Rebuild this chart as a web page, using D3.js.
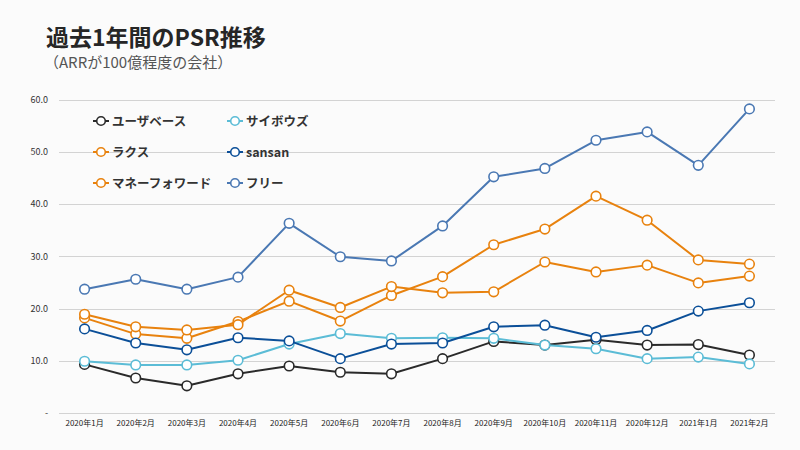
<!DOCTYPE html>
<html><head><meta charset="utf-8">
<script src="https://cdn.jsdelivr.net/npm/d3@7/dist/d3.min.js"></script>
<style>
html,body{margin:0;padding:0;background:#fbfbfb;}
svg{display:block;font-family:"Noto Sans CJK JP","Noto Sans",sans-serif;}
</style></head>
<body><svg id="c" width="800" height="450"></svg>
<script>
const months = ["2020年1月","2020年2月","2020年3月","2020年4月","2020年5月","2020年6月","2020年7月","2020年8月","2020年9月","2020年10月","2020年11月","2020年12月","2021年1月","2021年2月"];
const yTicks = [0,10,20,30,40,50,60];
const seriesNames = ["ユーザベース","サイボウズ","ラクス","sansan","マネーフォワード","フリー"];
const seriesColors = ["#2a2a2a","#5bbcd6","#e8820e","#0b4f98","#e8820e","#4a78b3"];
const userbase = [9.3,6.7,5.2,7.5,9.0,7.8,7.5,10.4,13.7,13.0,14.0,13.0,13.1,11.1];
const cybozu   = [9.9,9.2,9.2,10.1,13.2,15.2,14.3,14.4,14.3,13.0,12.3,10.4,10.7,9.4];
const rakus    = [18.2,15.1,14.3,17.5,21.4,17.6,22.5,26.1,32.2,35.2,41.5,36.9,29.3,28.5];
const sansan   = [16.1,13.4,12.1,14.4,13.8,10.4,13.2,13.4,16.5,16.8,14.5,15.8,19.5,21.1];
const moneyfwd = [18.9,16.5,15.9,16.9,23.5,20.2,24.2,23.0,23.2,28.9,27.0,28.3,24.9,26.2];
const freee    = [23.7,25.6,23.7,26.0,36.3,29.9,29.1,35.8,45.2,46.8,52.2,53.8,47.4,58.2];
const seriesValues = [userbase,cybozu,rakus,sansan,moneyfwd,freee];

const svg = d3.select("#c");
svg.append("rect").attr("width",800).attr("height",450).attr("fill","#fbfbfb");

const x = d3.scaleBand().domain(months).range([59,775]);
const cx = m => x(m) + x.bandwidth()/2;
const y = d3.scaleLinear().domain([0,60]).range([413,99.5]);

// title
svg.append("text").attr("x",46).attr("y",46).attr("font-size",23).attr("font-weight",700)
  .attr("fill","#262626").text("過去1年間のPSR推移");
svg.append("text").attr("x",44).attr("y",68).attr("font-size",15)
  .attr("fill","#555").text("（ARRが100億程度の会社）");

// grid
const grid = svg.append("g");
grid.selectAll("line").data(yTicks).join("line")
  .attr("x1",59).attr("x2",775).attr("y1",d=>Math.round(y(d))+0.5).attr("y2",d=>Math.round(y(d))+0.5)
  .attr("stroke","#d3d3d3").attr("stroke-width",1);

// y axis
const yAxis = d3.axisLeft(y).tickValues(yTicks).tickSize(0).tickPadding(0)
  .tickFormat(d => d===0 ? "-" : d3.format(".1f")(d));
const ya = svg.append("g").attr("transform","translate(48,0)").call(yAxis);
ya.select(".domain").remove();
ya.selectAll("text").attr("font-size",9).attr("fill","#333").attr("font-family","\"Noto Sans CJK JP\",sans-serif");

// x axis
const xAxis = d3.axisBottom(x).tickSize(0).tickPadding(0);
const xa = svg.append("g").attr("transform","translate(0,420)").call(xAxis);
xa.select(".domain").remove();
xa.selectAll("text").attr("font-size",8).attr("fill","#222").attr("font-family","\"Noto Sans CJK JP\",sans-serif");

// lines
const line = d3.line().x((d,i)=>cx(months[i])).y(d=>y(d));
const order = [0,2,4,1,3,5];
order.forEach(k=>{
  const g = svg.append("g");
  g.append("path").datum(seriesValues[k]).attr("d",line).attr("fill","none")
    .attr("stroke",seriesColors[k]).attr("stroke-width",2).attr("stroke-linejoin","round");
  g.selectAll("circle").data(seriesValues[k]).join("circle")
    .attr("cx",(d,i)=>cx(months[i])).attr("cy",d=>y(d)).attr("r",4.8)
    .attr("fill","#fff").attr("stroke",seriesColors[k]).attr("stroke-width",1.6);
});

// legend
const legX = [101,235], legY = [121,152,183];
seriesNames.forEach((n,i)=>{
  const lx = legX[i%2], ly = legY[Math.floor(i/2)];
  const g = svg.append("g");
  g.append("line").attr("x1",lx-8).attr("x2",lx+8).attr("y1",ly).attr("y2",ly)
    .attr("stroke",seriesColors[i]).attr("stroke-width",2);
  g.append("circle").attr("cx",lx).attr("cy",ly).attr("r",4.3).attr("fill","#fff")
    .attr("stroke",seriesColors[i]).attr("stroke-width",1.6);
  g.append("text").attr("x",lx+11).attr("y",ly+4.5).attr("font-size",12.5).attr("font-weight",700)
    .attr("fill","#333").text(n);
});
</script></body></html>
